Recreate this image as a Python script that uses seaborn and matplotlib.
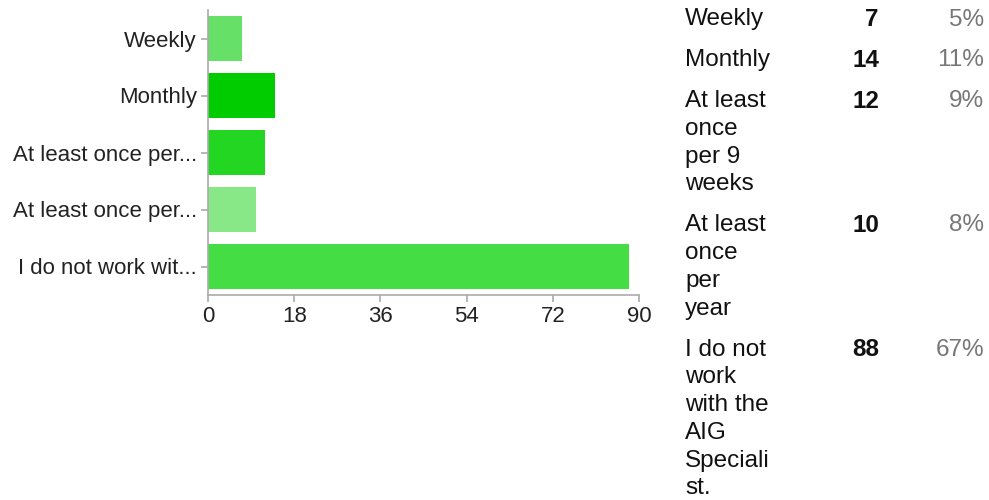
import matplotlib.pyplot as plt
import pandas as pd
import seaborn as sns

# Antall svar per kategori
categories = ["Weekly", "Monthly", "At least once per 9 weeks",
              "At least once per year", "I do not work with the AIG Specialist."]
tick_labels = ["Weekly", "Monthly", "At least once per...",
               "At least once per...", "I do not work wit..."]
counts = [7, 14, 12, 10, 88]
percents = ["5%", "11%", "9%", "8%", "67%"]
table_labels = ["Weekly", "Monthly", "At least\nonce\nper 9\nweeks",
                "At least\nonce\nper\nyear",
                "I do not\nwork\nwith the\nAIG\nSpeciali\nst."]
bar_colors = ["#66e066", "#00cc00", "#22d622", "#88e888", "#44dd44"]
x_ticks = [0, 18, 36, 54, 72, 90]


def plot_survey():
    sns.set_style("white")
    plt.rcParams['font.family'] = ['Liberation Sans', 'DejaVu Sans']

    df = pd.DataFrame({'kategori': categories, 'antall': counts})

    fig = plt.figure(figsize=(9.89, 5.0), dpi=100)
    W, H = 989, 500
    ax = fig.add_axes([208 / W, (H - 295) / H, (639 - 208) / W, (295 - 10) / H])

    sns.barplot(data=df, y='kategori', x='antall', hue='kategori',
                palette=bar_colors, order=categories, hue_order=categories,
                orient='h', width=0.78, linewidth=0, saturation=1,
                legend=False, ax=ax)

    ax.set_xlim(0, 90)
    ax.set_ylim(4.5, -0.5)
    ax.set_xticks(x_ticks)
    ax.set_xticklabels([str(t) for t in x_ticks])
    ax.set_yticks(range(len(tick_labels)))
    ax.set_yticklabels(tick_labels)
    ax.set_xlabel('')
    ax.set_ylabel('')

    for side in ['top', 'right']:
        ax.spines[side].set_visible(False)
    for side in ['left', 'bottom']:
        ax.spines[side].set_color('#aaaaaa')
        ax.spines[side].set_linewidth(1.2)

    ax.tick_params(axis='both', which='both', length=5, width=1.2,
                   color='#aaaaaa', labelsize=16, labelcolor='#222222')
    ax.tick_params(axis='y', left=True, pad=3)
    ax.tick_params(axis='x', bottom=True, pad=3)

    # Tabell til høyre
    fs = 17.5
    line_h = 27.8
    gap = 13
    top = 8.5
    for label, n, pct in zip(table_labels, counts, percents):
        y = 1 - top / H
        fig.text(685 / W, y, label, ha='left', va='top', fontsize=fs,
                 color='#111111', linespacing=1.34)
        fig.text(879 / W, y, str(n), ha='right', va='top', fontsize=fs,
                 fontweight='bold', color='#111111')
        fig.text(984 / W, y, pct, ha='right', va='top', fontsize=fs,
                 color='#777777')
        top += label.count('\n') * line_h + line_h + gap

    fig.savefig('out.png', dpi=100)
    plt.close(fig)


if __name__ == '__main__':
    plot_survey()
